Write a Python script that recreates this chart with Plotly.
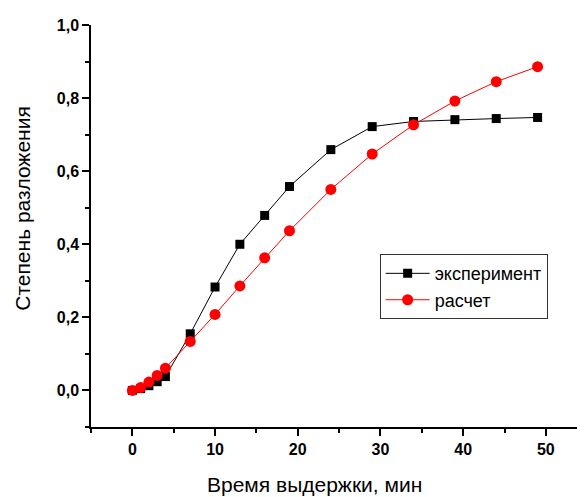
import plotly.graph_objects as go

time_min = [0, 1, 2, 3, 4, 7, 10, 13, 16, 19, 24, 29, 34, 39, 44, 49]
experiment = [0.0, 0.005, 0.013, 0.024, 0.038, 0.155, 0.283, 0.400, 0.479, 0.558, 0.659, 0.722, 0.736, 0.741, 0.744, 0.747]
calculation = [0.0, 0.008, 0.023, 0.041, 0.061, 0.134, 0.208, 0.286, 0.363, 0.437, 0.550, 0.647, 0.727, 0.792, 0.845, 0.886]

x_ticks = [0, 10, 20, 30, 40, 50]
y_ticks = [0.0, 0.2, 0.4, 0.6, 0.8, 1.0]

fig = go.Figure()
fig.add_trace(go.Scatter(
    x=time_min, y=experiment, mode="lines+markers", name="эксперимент",
    line=dict(color="black", width=1),
    marker=dict(symbol="square", size=9, color="black"),
))
fig.add_trace(go.Scatter(
    x=time_min, y=calculation, mode="lines+markers", name="расчет",
    line=dict(color="red", width=1),
    marker=dict(symbol="circle", size=11, color="red"),
))

tick_font = dict(family="Arial, Liberation Sans", size=16, color="black", weight="bold")

fig.update_layout(
    width=585, height=497,
    margin=dict(l=83, r=0, t=17, b=78),
    paper_bgcolor="white", plot_bgcolor="white",
    separators=", ",
    showlegend=True,
    legend=dict(
        x=0.575, y=0.43, xanchor="left", yanchor="top",
        bordercolor="#333333", borderwidth=1, bgcolor="white",
        font=dict(family="Arial, Liberation Sans", size=18, color="black"),
        tracegroupgap=0, itemwidth=44,
    ),
    xaxis=dict(
        range=[-5, 55.7], tickvals=x_ticks, tickformat="d",
        showgrid=False, zeroline=False,
        showline=True, linecolor="black", linewidth=1.5,
        ticks="outside", ticklen=7, tickwidth=1.5, tickcolor="black",
        minor=dict(dtick=5, tick0=0, ticks="outside", ticklen=4, tickwidth=1.5, tickcolor="black"),
        tickfont=tick_font,
    ),
    yaxis=dict(
        range=[-0.1, 1.0], tickvals=y_ticks, tickformat=".1f",
        showgrid=False, zeroline=False,
        showline=True, linecolor="black", linewidth=1.5,
        ticks="outside", ticklen=7, tickwidth=1.5, tickcolor="black",
        minor=dict(dtick=0.1, tick0=0, ticks="outside", ticklen=4, tickwidth=1.5, tickcolor="black"),
        tickfont=tick_font,
    ),
    annotations=[
        dict(text="Время выдержки, мин", xref="paper", yref="paper",
             x=0.446, y=-0.144, xanchor="center", yanchor="middle", showarrow=False,
             font=dict(family="Arial, Liberation Sans", size=21, color="black")),
        dict(text="Степень разложения", xref="paper", yref="paper",
             x=-0.137, y=0.5435, xanchor="center", yanchor="middle", showarrow=False, textangle=-90,
             font=dict(family="Arial, Liberation Sans", size=21, color="black")),
    ],
)

fig.write_html("out.html")
